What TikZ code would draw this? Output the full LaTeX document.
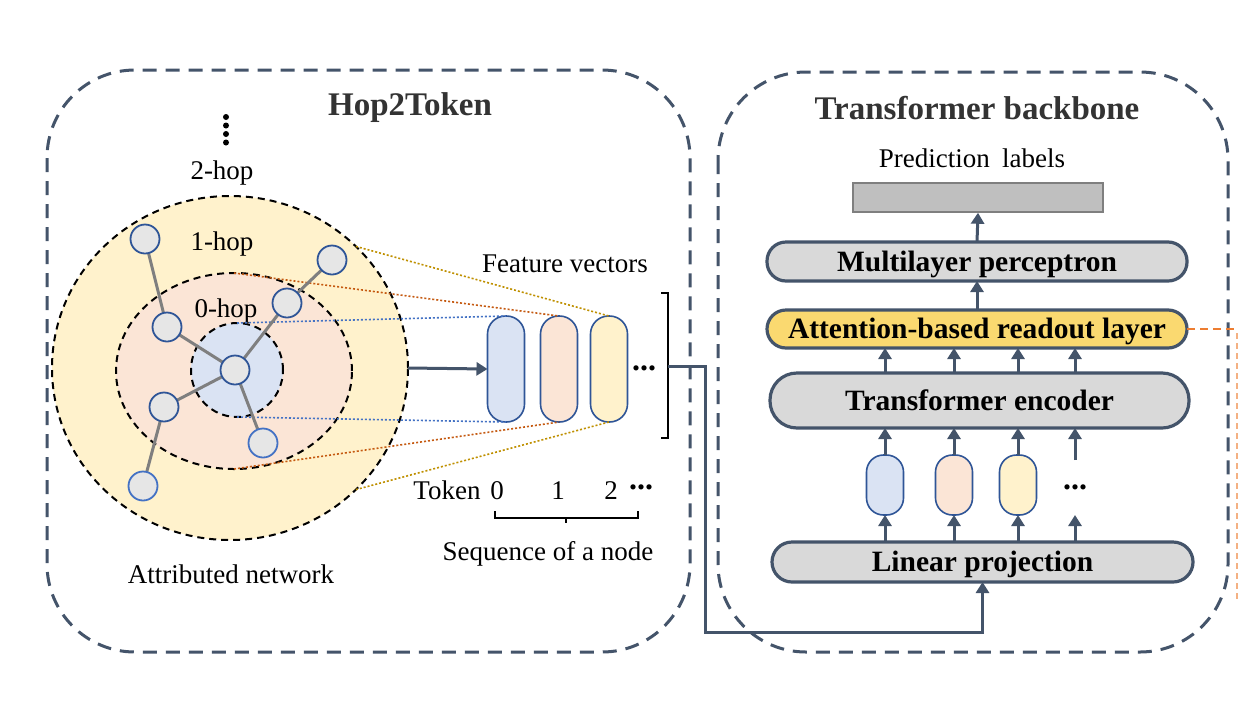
\documentclass[tikz,border=0pt]{standalone}
\usepackage{fontspec}
\setmainfont{Liberation Serif}
\usetikzlibrary{arrows.meta,shapes.geometric}
\definecolor{slate}{HTML}{44546A}
\definecolor{ylw}{HTML}{FFF2CC}
\definecolor{pch}{HTML}{FBE5D6}
\definecolor{blu}{HTML}{DAE3F3}
\definecolor{nodeb}{HTML}{2F5597}
\definecolor{nodeg}{HTML}{E6E6E6}
\definecolor{dotblue}{HTML}{4472C4}
\definecolor{dotorg}{HTML}{C55A11}
\definecolor{dotgold}{HTML}{BF9000}
\definecolor{boxg}{HTML}{D9D9D9}
\definecolor{predg}{HTML}{BFBFBF}
\definecolor{predb}{HTML}{7F7F7F}
\definecolor{readc}{HTML}{FAD970}
\definecolor{orng}{HTML}{ED7D31}
\definecolor{lorng}{HTML}{F4B183}
\definecolor{titlec}{HTML}{333333}
\definecolor{edgeg}{HTML}{7F7F7F}
\begin{document}
\begin{tikzpicture}[x=1pt,y=-1pt,
  panel/.style={draw=slate, line width=3pt, dash pattern=on 14pt off 9pt, rounded corners=88pt},
  hopring/.style={ellipse, draw=black, line width=2pt, dash pattern=on 7pt off 5pt, inner sep=0pt, outer sep=0pt},
  gn/.style={circle, draw=nodeb, fill=nodeg, line width=1.8pt, minimum size=29pt, inner sep=0pt, outer sep=0pt},
  gedge/.style={draw=edgeg, line width=3pt},
  fcap/.style={rectangle, draw=nodeb, line width=1.6pt, rounded corners=18pt, minimum width=37pt, minimum height=106pt, inner sep=0pt, outer sep=0pt},
  scap/.style={rectangle, draw=nodeb, line width=1.6pt, rounded corners=17pt, minimum width=37pt, minimum height=60pt, inner sep=0pt, outer sep=0pt},
  arr/.style={draw=slate, line width=3pt, -{Triangle[length=11pt,width=13pt]}},
  layer/.style={rectangle, draw=slate, line width=3.2pt, fill=boxg, inner sep=0pt, outer sep=0pt, text height=20pt, text depth=1pt, font=\fontsize{29.5}{33}\selectfont\bfseries},
  txt/.style={font=\fontsize{27}{31}\selectfont, inner sep=0pt},
  ttl/.style={font=\fontsize{33}{38}\selectfont\bfseries, text=titlec, inner sep=0pt},
  dots/.style={font=\fontsize{32}{36}\selectfont\bfseries, inner sep=0pt},
  dotl/.style={line width=1.6pt, dash pattern=on 2pt off 2pt}
]
\useasboundingbox (0,0) rectangle (1238,702);
\fill[white] (0,0) rectangle (1238,702);

% panels
\draw[panel] (47,70) rectangle (690,652);
\draw[panel] (718,72) rectangle (1228,652);
\node[ttl] (title1) at (410,108) {Hop2Token};
\node[ttl] (title2) at (977,108) {Transformer backbone};

% hop rings
\node[hopring, fill=ylw, minimum width=356pt, minimum height=344pt] (hop2) at (230,368) {};
\node[hopring, fill=pch, minimum width=236pt, minimum height=196pt] (hop1) at (234,371) {};
\node[hopring, fill=blu, minimum width=92pt, minimum height=94pt] (hop0) at (237,370) {};

% vertical dots and labels
\foreach \yy in {117,125.5,134,142.5} \fill (226,\yy) circle (3pt);
\node[txt] (l2) at (222,173) {2-hop};
\node[txt] (l1) at (222,244) {1-hop};
\node[txt] (l0) at (226,311) {0-hop};

% feature vector capsules
\node[fcap, fill=blu] (t0) at (506,369) {};
\node[fcap, fill=pch] (t1) at (559,369) {};
\node[fcap, fill=ylw] (t2) at (609,369) {};
\node[dots] (fdots) at (644,368) {...};
\node[txt] (fv) at (565,264) {Feature vectors};

% projection lines
\draw[dotl, dotblue] (hop0.north) -- (t0.north);
\draw[dotl, dotblue] (hop0.south) -- (t0.south);
\draw[dotl, dotorg] (hop1.north) -- (t1.north);
\draw[dotl, dotorg] (hop1.south) -- (t1.south);
\draw[dotl, dotgold] (hop2.44) -- (t2.north);
\draw[dotl, dotgold] (hop2.-44) -- (t2.south);

% graph
\coordinate (c) at (235,370);
\coordinate (n1) at (145,239);
\coordinate (n2) at (167,327);
\coordinate (n3) at (164,407);
\coordinate (n4) at (143,486);
\coordinate (n5) at (263,443);
\coordinate (n6) at (287,303);
\coordinate (n7) at (332,260);
\draw[gedge] (n1) -- (n2);
\draw[gedge] (n2) -- (c);
\draw[gedge] (c) -- (n6);
\draw[gedge] (n6) -- (n7);
\draw[gedge] (c) -- (n3);
\draw[gedge] (n3) -- (n4);
\draw[gedge] (c) -- (n5);
\node[gn] (gc) at (c) {};
\node[gn] (g1) at (n1) {};
\node[gn] (g2) at (n2) {};
\node[gn] (g3) at (n3) {};
\node[gn, draw=dotblue] (g4) at (n4) {};
\node[gn, draw=dotblue] (g5) at (n5) {};
\node[gn] (g6) at (n6) {};
\node[gn] (g7) at (n7) {};

\node[txt] (an) at (231,574) {Attributed network};

% arrow into tokens
\draw[arr] (hop2.east) -- (t0.west);

% bracket
\coordinate (brk) at (668,366);
\draw[line width=1.8pt] (661,293) -| (668,438) -- (661,438);
\draw[line width=1.8pt] (brk) -- (672,366);

% token labels
\node[txt, anchor=base] (tk) at (447,499) {Token};
\node[txt, anchor=base] (k0) at (497,499) {0};
\node[txt, anchor=base] (k1) at (558,499) {1};
\node[txt, anchor=base] (k2) at (611,499) {2};
\node[dots] (kd) at (641,487) {...};
\draw[line width=1.5pt] (495,511) -- (495,518) -- (638,518) -- (638,511);
\draw[line width=1.5pt] (566,518) -- (566,523);
\node[txt] (seq) at (548,554) {Sequence of a node};

% right panel
\node[txt] (pl) at (972,158) {Prediction\hspace{0.45em}labels};
\node[rectangle, draw=predb, fill=predg, line width=1.5pt, minimum width=250pt, minimum height=29pt, inner sep=0pt] (pred) at (978,197.5) {};
\node[layer, minimum width=420pt, minimum height=39pt, rounded corners=19pt] (mlp) at (977,261.5) {Multilayer perceptron};
\node[layer, fill=readc, minimum width=420pt, minimum height=38pt, rounded corners=19pt] (ro) at (977,329) {Attention-based readout layer};
\node[layer, minimum width=419pt, minimum height=55pt, rounded corners=27pt] (enc) at (979.5,400.5) {Transformer encoder};
\node[layer, minimum width=421pt, minimum height=40pt, rounded corners=20pt] (lin) at (982.5,562) {Linear projection};

\node[scap, fill=blu] (c0) at (885,485) {};
\node[scap, fill=pch] (c1) at (954,485) {};
\node[scap, fill=ylw] (c2) at (1018,485) {};
\node[dots] (cd) at (1075,487) {...};

\draw[arr] (mlp.north) -- (pred.south);
\draw[arr] (ro.north) -- (mlp.south);
\foreach \n in {c0,c1,c2} {
  \draw[arr] (enc.north -| \n.center) -- (ro.south -| \n.center);
  \draw[arr] (\n.north) -- (enc.south -| \n.center);
  \draw[arr] (lin.north -| \n.center) -- (\n.south);
}
\coordinate (cdtop) at (1075,460);
\draw[arr] (enc.north -| cd.center) -- (ro.south -| cd.center);
\draw[arr] (cdtop) -- (enc.south -| cd.center);
\draw[arr] (lin.north -| cd.center) -- (c0.south -| cd.center);

% connector from bracket to linear projection
\draw[arr] (brk) -- (705,366) -- (705,632) -| (lin.south);

% orange dashed link
\coordinate (oe) at (1238,329);
\coordinate (ov1) at (1237,333);
\coordinate (ov2) at (1237,602);
\draw[orng, line width=1.8pt, dash pattern=on 8pt off 5pt] (ro.east) -- (oe);
\draw[lorng, line width=1.2pt, dash pattern=on 6pt off 4pt] (ov1) -- (ov2);
\end{tikzpicture}
\end{document}
